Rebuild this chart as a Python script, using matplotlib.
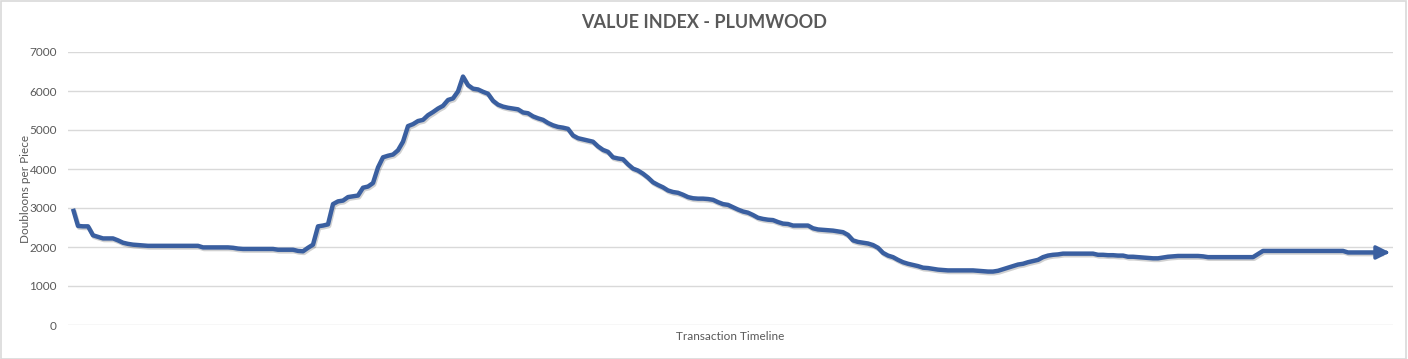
import numpy as np
import matplotlib
matplotlib.use("Agg")
import matplotlib.pyplot as plt
import matplotlib.patheffects as pe
from matplotlib.patches import Rectangle

# data, one value per transaction step
title = "VALUE INDEX - PLUMWOOD"
ylabel = "Doubloons per Piece"
xlabel = "Transaction Timeline"
yticks = [0, 1000, 2000, 3000, 4000, 5000, 6000, 7000]

values = [
    2980, 2540, 2530, 2530, 2300, 2260, 2220, 2220, 2220, 2170,
    2110, 2080, 2060, 2050, 2040, 2030, 2030, 2030, 2030, 2030,
    2030, 2030, 2030, 2030, 2030, 2030, 1990, 1990, 1990, 1990,
    1990, 1990, 1980, 1960, 1950, 1950, 1950, 1950, 1950, 1950,
    1950, 1930, 1930, 1930, 1930, 1900, 1890, 1980, 2060, 2530,
    2550, 2580, 3100, 3170, 3190, 3280, 3300, 3320, 3520, 3550,
    3640, 4040, 4300, 4340, 4370, 4480, 4700, 5100, 5150, 5230,
    5260, 5380, 5460, 5550, 5620, 5770, 5810, 5990, 6370, 6150,
    6060, 6040, 5980, 5930, 5750, 5650, 5600, 5570, 5550, 5530,
    5450, 5430, 5350, 5300, 5260, 5180, 5120, 5080, 5060, 5030,
    4860, 4790, 4760, 4730, 4700, 4580, 4490, 4440, 4300, 4270,
    4250, 4120, 4010, 3960, 3880, 3780, 3660, 3590, 3530, 3450,
    3410, 3390, 3340, 3280, 3250, 3240, 3240, 3230, 3210, 3150,
    3100, 3080, 3020, 2960, 2910, 2880, 2820, 2750, 2720, 2700,
    2690, 2640, 2600, 2590, 2550, 2550, 2550, 2550, 2480, 2450,
    2440, 2430, 2420, 2400, 2380, 2310, 2170, 2130, 2110, 2090,
    2050, 1980, 1850, 1780, 1740, 1670, 1610, 1570, 1540, 1510,
    1470, 1460, 1440, 1420, 1410, 1400, 1400, 1400, 1400, 1400,
    1400, 1390, 1380, 1370, 1370, 1390, 1430, 1470, 1510, 1550,
    1570, 1610, 1640, 1670, 1740, 1780, 1800, 1810, 1830, 1830,
    1830, 1830, 1830, 1830, 1830, 1800, 1800, 1790, 1790, 1780,
    1780, 1750, 1750, 1740, 1730, 1720, 1710, 1710, 1730, 1750,
    1760, 1770, 1770, 1770, 1770, 1770, 1760, 1740, 1740, 1740,
    1740, 1740, 1740, 1740, 1740, 1740, 1740, 1820, 1900, 1900,
    1900, 1900, 1900, 1900, 1900, 1900, 1900, 1900, 1900, 1900,
    1900, 1900, 1900, 1900, 1900, 1860, 1860, 1860, 1860, 1860,
    1860, 1860, 1860, 1860,
]

lineColor = "#3A5FA0"
textColor = "#595959"
gridColor = "#D9D9D9"

plt.rcParams['font.family'] = ['Lato', 'DejaVu Sans']

fig = plt.figure(figsize=(14.08, 3.59), dpi=100)
ax = fig.add_axes([68/1408, 1-325/359, (1393-68)/1408, (325-52)/359])

x = np.arange(len(values))
shadow = [pe.SimpleLineShadow(offset=(0.8, -1.2), alpha=0.18, shadow_color="black"), pe.Normal()]
ax.plot(x[:-1], values[:-1], color=lineColor, lw=3.2, solid_joinstyle="round",
        solid_capstyle="butt", path_effects=shadow, zorder=3)
ax.annotate("", xy=(x[-1] + 0.4, values[-1]), xytext=(x[-2], values[-2]),
            arrowprops=dict(arrowstyle="-|>,head_length=0.8,head_width=0.4", color=lineColor,
                            lw=2.5, shrinkA=0, shrinkB=0), zorder=4)

ax.set_ylim(0, 7000)
ax.set_xlim(-1, len(values))
ax.set_yticks(yticks)
ax.set_yticklabels([str(v) for v in yticks], color=textColor, fontsize=8.5)
ax.set_xticks([])
ax.tick_params(axis="y", length=0, pad=8)
ax.grid(axis="y", color=gridColor, lw=1)
ax.set_axisbelow(True)
for s in ax.spines.values():
    s.set_visible(False)

ax.set_ylabel(ylabel, color=textColor, fontsize=8.5)
ax.yaxis.set_label_coords((31-68)/1325, 0.5)
ax.set_xlabel(xlabel, color=textColor, fontsize=8.5, labelpad=4)
fig.text(0.5, 1-22/359, title, ha="center", va="center", fontsize=13,
         fontweight="bold", color=textColor)

fig.add_artist(Rectangle((0.0005, 0.001), 0.998, 0.997, transform=fig.transFigure,
                         fill=False, edgecolor=gridColor, lw=1.2))

fig.savefig("out.png", dpi=100)
